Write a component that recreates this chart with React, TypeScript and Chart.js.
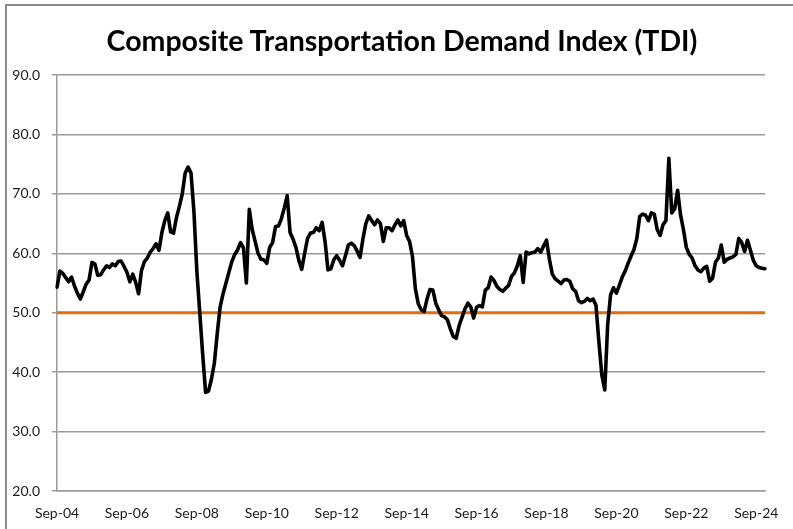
import React, { useEffect, useRef } from "react";
import { Chart, registerables } from "chart.js";

Chart.register(...registerables);

const TITLE = "Composite Transportation Demand Index (TDI)";
const START_YEAR = 2004;
const START_MONTH = 8; // September (0-based)
const MONTH_NAMES = ["Jan", "Feb", "Mar", "Apr", "May", "Jun", "Jul", "Aug", "Sep", "Oct", "Nov", "Dec"];

// Monthly TDI values, Sep-04 .. Dec-24
const TDI: number[] = [
  54.3, 57.0, 56.6, 55.9, 55.2, 56.0, 54.5, 53.3, 52.3, 53.5, 54.8, 55.5,
  58.5, 58.2, 56.3, 56.4, 57.2, 57.9, 57.6, 58.2, 57.9, 58.6, 58.7, 57.8,
  56.8, 55.2, 56.5, 55.1, 53.2, 57.1, 58.6, 59.2, 60.2, 60.8, 61.6, 60.5,
  63.5, 65.5, 66.8, 63.6, 63.4, 66.0, 67.9, 70.0, 73.5, 74.5, 73.5, 67.0,
  57.0, 50.0, 43.0, 36.6, 36.8, 38.8, 41.5, 46.5, 51.0, 53.2, 55.0, 56.8,
  58.6, 59.8, 60.6, 61.8, 60.9, 55.0, 67.4, 64.0, 62.0, 60.0, 59.0, 58.9,
  58.3, 61.0, 61.8, 64.5, 64.6, 65.8, 67.6, 69.7, 63.5, 62.4, 61.0, 58.8,
  57.3, 60.0, 62.5, 63.4, 63.5, 64.3, 63.8, 65.2, 62.0, 57.2, 57.4, 58.9,
  59.6, 58.8, 57.9, 59.6, 61.4, 61.7, 61.3, 60.4, 59.3, 62.4, 65.0, 66.3,
  65.5, 64.8, 65.6, 65.0, 62.0, 64.3, 64.3, 63.8, 64.8, 65.6, 64.6, 65.5,
  63.0, 62.0, 59.5, 54.0, 51.5, 50.5, 50.2, 52.3, 53.9, 53.8, 51.6, 50.5,
  49.5, 49.3, 48.8, 47.3, 46.0, 45.7, 47.8, 49.2, 50.6, 51.6, 51.0, 49.1,
  50.9, 51.2, 51.0, 53.8, 54.2, 56.0, 55.4, 54.4, 53.9, 53.6, 54.1, 54.6,
  56.1, 56.7, 57.9, 59.6, 55.1, 60.2, 59.9, 60.1, 60.2, 60.8, 60.2, 61.2,
  62.2, 59.0, 56.5, 55.7, 55.3, 54.9, 55.5, 55.6, 55.3, 54.0, 53.6, 52.0,
  51.7, 51.9, 52.4, 52.0, 52.3, 51.2, 45.0, 39.5, 37.0, 48.0, 53.0, 54.2,
  53.3, 54.6, 56.0, 57.0, 58.3, 59.5, 60.6, 62.5, 66.2, 66.6, 66.4, 65.5,
  66.8, 66.6, 64.0, 63.0, 64.8, 65.5, 76.0, 66.8, 67.5, 70.6, 66.5, 64.0,
  61.0, 59.8, 59.2, 57.9, 57.2, 56.9, 57.5, 57.8, 55.3, 55.8, 58.5, 59.2,
  61.4, 58.5, 59.0, 59.2, 59.4, 59.8, 62.5, 61.8, 60.3, 62.2, 60.5, 58.8,
  57.9, 57.6, 57.5, 57.4,
];

const THRESHOLD = 50;
const Y_MIN = 20;
const Y_MAX = 90;
const Y_STEP = 10;
const LABEL_EVERY = 24;

const MONTHS: string[] = TDI.map((_, i) => {
  const m = START_MONTH + i;
  const y = START_YEAR + Math.floor(m / 12);
  return `${MONTH_NAMES[m % 12]}-${String(y % 100).padStart(2, "0")}`;
});

const FONT = 'Lato, "Open Sans", sans-serif';
const GRID = "#9a9a9a";
const TEXT = "#1a1a1a";

export default function App() {
  const ref = useRef<HTMLCanvasElement | null>(null);

  useEffect(() => {
    if (!ref.current) return;
    const chart = new Chart(ref.current, {
      type: "line",
      data: {
        labels: MONTHS,
        datasets: [
          {
            label: "TDI",
            data: TDI,
            borderColor: "#000000",
            borderWidth: 3.6,
            pointRadius: 0,
            tension: 0,
            borderJoinStyle: "round",
            borderCapStyle: "round",
            order: 0,
          },
          {
            label: "50",
            data: MONTHS.map(() => THRESHOLD),
            borderColor: "#E46C0A",
            borderWidth: 3,
            pointRadius: 0,
            order: 1,
          },
        ],
      },
      options: {
        responsive: false,
        animation: false,
        layout: { padding: { left: 0, right: 28, top: 75, bottom: 0 } },
        plugins: {
          legend: { display: false },
          tooltip: { enabled: false },
          title: { display: false },
        },
        scales: {
          x: {
            type: "category",
            offset: false,
            grid: { display: false, drawTicks: false, tickLength: 0 },
            border: { display: true, color: GRID, width: 1.5 },
            ticks: {
              autoSkip: false,
              maxRotation: 0,
              minRotation: 0,
              padding: 14,
              color: TEXT,
              font: { family: FONT, size: 14 },
              callback: function (this: any, val: any, index: number) {
                return index % LABEL_EVERY === 0 ? this.getLabelForValue(val) : null;
              },
            },
            afterFit: (scale: any) => {
              scale.height = 38;
            },
          },
          y: {
            min: Y_MIN,
            max: Y_MAX,
            ticks: {
              stepSize: Y_STEP,
              padding: 12,
              color: TEXT,
              font: { family: FONT, size: 14 },
              callback: (v: any) => Number(v).toFixed(1),
            },
            grid: { color: GRID, lineWidth: 1.5, tickLength: 5, drawTicks: true },
            border: { color: GRID, width: 1.5 },
            afterFit: (scale: any) => {
              scale.width = 57;
            },
          },
        },
      },
    } as any);
    return () => chart.destroy();
  }, []);

  return (
    <div
      style={{
        position: "fixed",
        left: 0,
        top: 0,
        width: 793,
        height: 529,
        overflow: "hidden",
        background: "#fff",
      }}
    >
      <canvas ref={ref} width={793} height={529} style={{ display: "block" }} />
      <div
        style={{
          position: "absolute",
          left: 0,
          top: 22,
          width: 804,
          textAlign: "center",
          fontFamily: FONT,
          fontWeight: 700,
          fontSize: 28.5,
          lineHeight: "36px",
          color: "#000",
          whiteSpace: "nowrap",
          pointerEvents: "none",
        }}
      >
        {TITLE}
      </div>
      <div
        style={{
          position: "absolute",
          left: 5,
          top: 4,
          right: -10,
          bottom: -10,
          borderLeft: "2px solid #8a8a8a",
          borderTop: "2px solid #8a8a8a",
          pointerEvents: "none",
        }}
      />
    </div>
  );
}
